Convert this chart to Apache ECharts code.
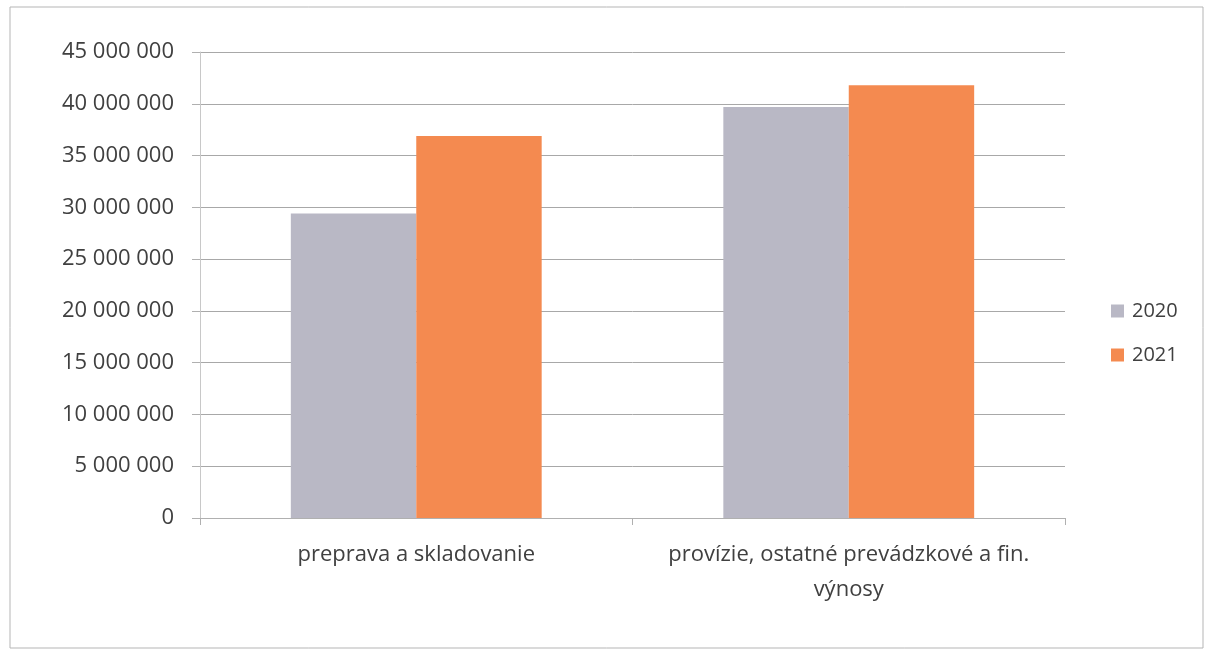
<!DOCTYPE html>
<html>
<head>
<meta charset="utf-8">
<script src="https://cdn.jsdelivr.net/npm/echarts@6/dist/echarts.min.js"></script>
<style>html,body{margin:0;padding:0;background:#fff}#c{width:1207px;height:650px}</style>
</head>
<body>
<div id="c"></div>
<script>
const categories = ['preprava a skladovanie', 'provízie, ostatné prevádzkové a fin.\nvýnosy'];
const seriesNames = ['2020', '2021'];
const values2020 = [29400000, 39700000];
const values2021 = [36900000, 41800000];
const yTicks = { min: 0, max: 45000000, interval: 5000000 };

const FONT = '"Open Sans", sans-serif';
const chart = echarts.init(document.getElementById('c'));
function fmt(v){ return String(v).replace(/\B(?=(\d{3})+(?!\d))/g, ' '); }
chart.setOption({
  backgroundColor: '#fff',
  animation: false,
  graphic: [{
    type: 'rect', shape: { x: 10, y: 7, width: 1193, height: 641 },
    style: { fill: 'none', stroke: '#b5b5b5', lineWidth: 1 }, silent: true
  }],
  grid: { left: 200, right: 142, top: 52, bottom: 132, containLabel: false },
  legend: {
    orient: 'vertical', left: 1106, top: 296, itemWidth: 13, itemHeight: 13, itemGap: 24,
    icon: 'rect',
    textStyle: { fontFamily: FONT, fontSize: 20, color: '#404040', padding: [0, 0, 0, 3] },
    data: seriesNames
  },
  xAxis: {
    type: 'category', data: categories,
    axisLine: { lineStyle: { color: '#b0b0b0' } },
    axisTick: { show: true, length: 7, lineStyle: { color: '#b0b0b0' } },
    axisLabel: { fontFamily: FONT, fontSize: 22, color: '#404040', margin: 19, lineHeight: 35, interval: 0 }
  },
  yAxis: {
    type: 'value', min: yTicks.min, max: yTicks.max, interval: yTicks.interval,
    axisLine: { show: true, lineStyle: { color: '#c8c8c8' } },
    axisTick: { show: true, length: 8, lineStyle: { color: '#b0b0b0' } },
    splitLine: { lineStyle: { color: '#a8a8a8' } },
    axisLabel: { fontFamily: FONT, fontSize: 22, color: '#404040', margin: 26, formatter: fmt }
  },
  series: [
    { name: seriesNames[0], type: 'bar', data: values2020, barGap: '0%', barCategoryGap: '42%',
      itemStyle: { color: '#b9b8c5' } },
    { name: seriesNames[1], type: 'bar', data: values2021, barGap: '0%', barCategoryGap: '42%',
      itemStyle: { color: '#f48a50' } }
  ]
});
</script>
</body>
</html>
